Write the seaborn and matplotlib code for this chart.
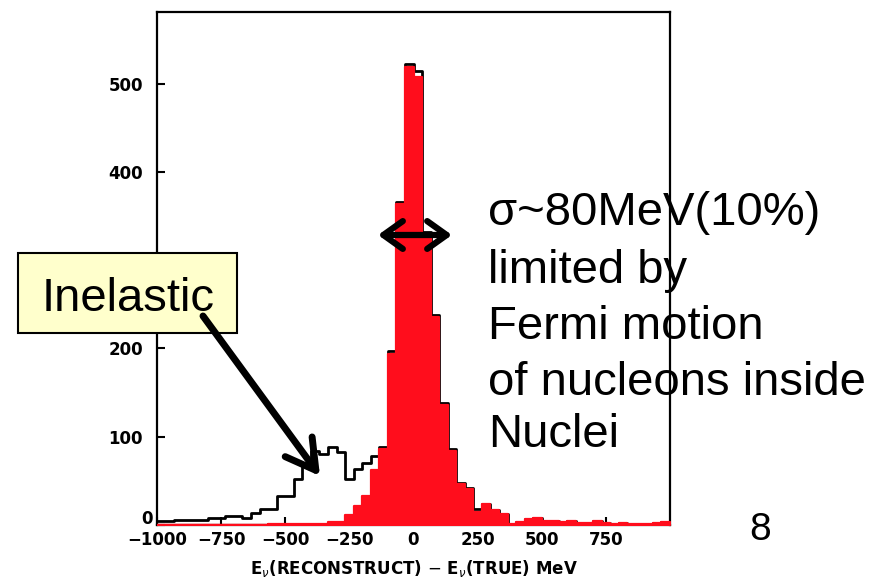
import numpy as np
import pandas as pd
import matplotlib
matplotlib.use("Agg")
import matplotlib.pyplot as plt
import matplotlib.transforms as mtransforms
from matplotlib.patches import Rectangle
import seaborn as sns

# 60 bins of 33.3 MeV from -1000 to 1000 MeV
bin_edges = list(np.linspace(-1000, 1000, 61))

# all events (black outline)
total_counts = [5, 5, 6, 6, 6, 6, 8, 8, 10, 10,
                8, 14, 18, 18, 33, 33, 52, 67, 84, 80,
                88, 83, 52, 63, 70, 78, 88, 197, 366, 522,
                514, 332, 238, 138, 86, 48, 42, 18, 24, 17,
                12, 1, 3, 7, 8, 4, 5, 3, 4, 2,
                2, 4, 2, 1, 2, 1, 1, 1, 2, 3]

# quasi-elastic events (red)
qe_counts = [0, 0, 0, 0, 0, 0, 0, 0, 0, 0,
             0, 0, 0, 1, 1, 1, 1, 1, 1, 1,
             3, 3, 11, 21, 33, 62, 86, 194, 364, 519,
             507, 330, 236, 136, 84, 47, 41, 15, 24, 17,
             12, 1, 3, 7, 8, 4, 5, 3, 4, 2,
             2, 4, 2, 1, 2, 1, 1, 1, 2, 3]

x_ticks = [-1000, -750, -500, -250, 0, 250, 500, 750]
y_ticks = [0, 100, 200, 300, 400, 500]

note_lines = ["σ~80MeV(10%)", "limited by", "Fermi motion",
              "of nucleons inside", "Nuclei"]

RED = "#ff0d1c"

sns.set_style("ticks", {"axes.edgecolor": "black", "text.color": "black",
                        "xtick.color": "black", "ytick.color": "black",
                        "axes.labelcolor": "black"})
plt.rcParams["font.family"] = ["Liberation Sans", "DejaVu Sans"]

df = pd.DataFrame({
    "center": [(a + b) / 2 for a, b in zip(bin_edges[:-1], bin_edges[1:])],
    "total": total_counts,
    "qe": qe_counts,
})

W, H = 877, 583
fig = plt.figure(figsize=(W / 100, H / 100), dpi=100)
ax = fig.add_axes([157 / W, 1 - 525 / H, (670 - 157) / W, (525 - 12) / H])

sns.histplot(data=df, x="center", weights="total", bins=bin_edges,
             element="step", fill=False, color="black", linewidth=2,
             ax=ax, zorder=2)
sns.histplot(data=df, x="center", weights="qe", bins=bin_edges,
             element="step", fill=True, color=RED, alpha=1, linewidth=1.6,
             edgecolor=RED, ax=ax, zorder=3)

tick_font = dict(family="DejaVu Sans", fontsize=12, fontweight="bold")
ax.set_xlim(-1000, 1000)
ax.set_ylim(0, 581)
ax.set_xticks(x_ticks)
ax.set_yticks(y_ticks)
ax.set_xticklabels([f"{t:d}".replace("-", "\u2212") for t in x_ticks],
                   **tick_font)
ax.set_yticklabels([str(t) for t in y_ticks], **tick_font)
ax.tick_params(axis="both", direction="in", length=6, width=1.5,
               colors="black")
ax.tick_params(axis="y", pad=10)
ax.tick_params(axis="x", pad=4)
# the 0 of the y axis sits a little higher, next to -1000
lab0 = ax.get_yticklabels()[0]
lab0.set_transform(lab0.get_transform() +
                   mtransforms.ScaledTranslation(10 / 100, 8 / 100,
                                                 fig.dpi_scale_trans))
ax.set_ylabel("")
ax.set_xlabel(r"E$_\nu$(RECONSTRUCT) $-$ E$_\nu$(TRUE) MeV",
              family="DejaVu Sans", fontsize=12, fontweight="bold",
              labelpad=7)
for s in ax.spines.values():
    s.set_linewidth(1.6)
    s.set_color("black")
    s.set_visible(True)

px = lambda x, y: (x / W, 1 - y / H)

# "Inelastic" label box
x0, y0 = px(18, 333)
ax.add_patch(Rectangle((x0, y0), 219 / W, 80 / H, transform=fig.transFigure,
                       facecolor="#ffffcc", edgecolor="black", linewidth=1.5,
                       clip_on=False, zorder=10))
ax.text(*px(128, 311), "Inelastic", transform=fig.transFigure, ha="center",
        va="baseline", fontsize=34, color="black", zorder=11, clip_on=False)

# arrow from label to the inelastic bump
ax.annotate("", xy=px(320, 476), xytext=px(203, 316),
            xycoords="figure fraction", textcoords="figure fraction",
            arrowprops=dict(arrowstyle="->,head_length=0.7,head_width=0.4",
                            lw=5, color="black", mutation_scale=30,
                            shrinkA=0, shrinkB=0),
            zorder=12, annotation_clip=False)

# width arrow across the peak
ax.annotate("", xy=px(452, 235), xytext=px(378, 235),
            xycoords="figure fraction", textcoords="figure fraction",
            arrowprops=dict(arrowstyle="<->,head_length=0.7,head_width=0.5",
                            lw=4.5, color="black", mutation_scale=20,
                            shrinkA=0, shrinkB=0),
            zorder=12, annotation_clip=False)

baselines = [225, 283, 339, 395, 447]
for line, yb in zip(note_lines, baselines):
    ax.text(*px(488, yb), line, transform=fig.transFigure, ha="left",
            va="baseline", fontsize=34, color="black", zorder=1,
            clip_on=False)

ax.text(*px(760, 540), "8", transform=fig.transFigure, ha="center",
        va="baseline", fontsize=28, color="black", clip_on=False)

fig.savefig("out.png", dpi=100)
